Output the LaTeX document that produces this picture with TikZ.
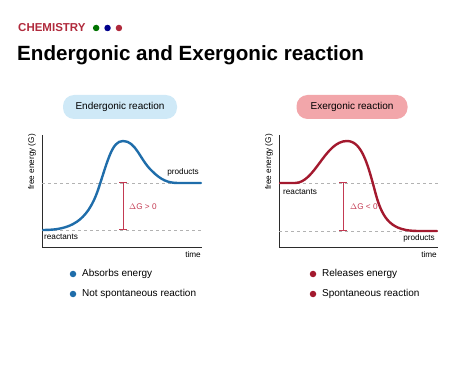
\documentclass[tikz,border=0pt]{standalone}
\usepackage{fontspec}
\setmainfont{Liberation Sans}
\usetikzlibrary{positioning}

\definecolor{chemred}{HTML}{B02A3C}
\definecolor{endoblue}{HTML}{1F6DAA}
\definecolor{exored}{HTML}{A3192E}
\definecolor{pillblue}{HTML}{CFE9F7}
\definecolor{pillred}{HTML}{F2A6AA}
\definecolor{dgred}{HTML}{C33A52}
\definecolor{axisgray}{HTML}{2B2B2B}

\tikzset{
  pill/.style={rounded corners=11pt, minimum width=#1, minimum height=24pt, font=\fontsize{10}{12}\selectfont, inner sep=0pt},
  axis/.style={axisgray, line width=1pt},
  level/.style={gray!60, dashed, dash pattern=on 3pt off 3pt, line width=0.5pt},
  curve/.style={line width=2.4pt, line cap=round},
  dgbar/.style={dgred, line width=1pt},
  small/.style={font=\fontsize{8.2}{9}\selectfont, inner sep=1pt},
  bullet/.style={circle, fill=#1, inner sep=0pt, minimum size=6.5pt},
  item/.style={font=\fontsize{10}{12}\selectfont, inner sep=0pt, anchor=west},
}

\begin{document}
\begin{tikzpicture}[x=1pt, y=-1pt]
\useasboundingbox (0,0) rectangle (474,366);

% header
\node[anchor=west, inner sep=0pt, text=chemred, font=\bfseries\fontsize{11.5}{13}\selectfont] (chem) at (18,28) {CHEMISTRY};
\node[bullet=green!45!black, right=7pt of chem] (dotg) {};
\node[bullet=blue!55!black, right=4.5pt of dotg] (dotb) {};
\node[bullet=chemred, right=4.5pt of dotb] (dotr) {};
\node[anchor=west, inner sep=0pt, font=\bfseries\fontsize{20.6}{24}\selectfont] (title) at (17,55) {Endergonic and Exergonic reaction};

% endergonic panel
\node[pill=114pt, fill=pillblue] (endo) at (120,107) {Endergonic reaction};
\coordinate (eo) at (42,248);
\coordinate (etop) at (42,135);
\coordinate (eend) at (202,248);
\draw[axis] (etop) -- (eo) -- (eend);
\node[small, rotate=90] (eG) at (32,162) {free energy (G)};
\node[small, anchor=east] (etime) at (202,255) {time};
\coordinate (ehi1) at (42,183);
\coordinate (ehi2) at (202,183);
\coordinate (elo1) at (42,230);
\coordinate (elo2) at (202,230);
\draw[level] (ehi1) -- (ehi2);
\draw[level] (elo1) -- (elo2);
\draw[curve, endoblue] (43,230) .. controls (70,230) and (87,222) .. (98,190)
  .. controls (108,160) and (112,141) .. (123,141)
  .. controls (136,141) and (140,160) .. (152,171)
  .. controls (161,180) and (168,183) .. (178,183) -- (201,183);
\coordinate (edgt) at (123,183);
\coordinate (edgb) at (123,230);
\draw[dgbar] (edgt) -- (edgb);
\draw[dgbar] ([xshift=-4pt]edgt) -- ([xshift=4pt]edgt);
\draw[dgbar] ([xshift=-4pt]edgb) -- ([xshift=4pt]edgb);
\node[small, text=dgred, anchor=west] (edg) at (128,207) {$\Delta$G > 0};
\node[small, anchor=east] (eprod) at (200,172) {products};
\node[small, anchor=west] (ereac) at (43,237) {reactants};

% exergonic panel
\node[pill=111pt, fill=pillred] (exo) at (352,107) {Exergonic reaction};
\coordinate (xo) at (279,248);
\coordinate (xtop) at (279,135);
\coordinate (xend) at (438,248);
\draw[axis] (xtop) -- (xo) -- (xend);
\node[small, rotate=90] (xG) at (269,162) {free energy (G)};
\node[small, anchor=east] (xtime) at (438,255) {time};
\coordinate (xhi1) at (279,183);
\coordinate (xhi2) at (438,183);
\coordinate (xlo1) at (279,231);
\coordinate (xlo2) at (438,231);
\draw[level] (xhi1) -- (xhi2);
\draw[level] (xlo1) -- (xlo2);
\draw[curve, exored] (280,183) -- (295,183)
  .. controls (315,183) and (325,141) .. (347,141)
  .. controls (362,141) and (368,165) .. (376,195)
  .. controls (383,220) and (392,231) .. (418,231) -- (437,231);
\coordinate (xdgt) at (343,183);
\coordinate (xdgb) at (343,231);
\draw[dgbar] (xdgt) -- (xdgb);
\draw[dgbar] ([xshift=-4pt]xdgt) -- ([xshift=4pt]xdgt);
\draw[dgbar] ([xshift=-4pt]xdgb) -- ([xshift=4pt]xdgb);
\node[small, text=dgred, anchor=west] (xdg) at (349,207) {$\Delta$G < 0};
\node[small, anchor=west] (xreac) at (282,192) {reactants};
\node[small, anchor=east] (xprod) at (436,238) {products};

% bullet lists
\node[bullet=endoblue] (eb1) at (73,274) {};
\node[item, right=5.5pt of eb1] (et1) {Absorbs energy};
\node[bullet=endoblue] (eb2) at (73,294) {};
\node[item, right=5.5pt of eb2] (et2) {Not spontaneous reaction};
\node[bullet=exored] (xb1) at (313,274) {};
\node[item, right=5.5pt of xb1] (xt1) {Releases energy};
\node[bullet=exored] (xb2) at (313,294) {};
\node[item, right=5.5pt of xb2] (xt2) {Spontaneous reaction};
\end{tikzpicture}
\end{document}
